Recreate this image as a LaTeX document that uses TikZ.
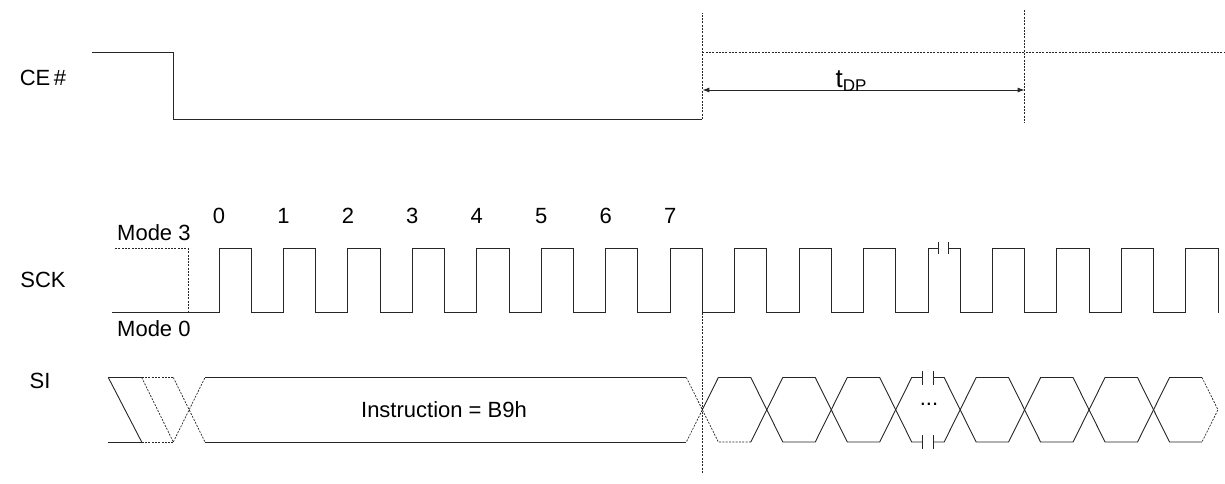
\documentclass[tikz,border=0pt]{standalone}
\usepackage{fontspec}
\setmainfont{Liberation Sans}
\usetikzlibrary{arrows.meta}
\begin{document}
\begin{tikzpicture}[x=1pt,y=-1pt,
  sig/.style={line width=0.9pt,black!85},
  dsh/.style={line width=0.7pt,black!85,dash pattern=on 2pt off 1.3pt},
  lbl/.style={font=\fontsize{22}{26}\selectfont,inner sep=0pt},
  brk/.style={line width=0.8pt,black!85}]
\useasboundingbox (0,0) rectangle (1225,483);
\def\P{64.45}\def\Hw{32.2}\def\Ro{219}
\def\hi{248.3}\def\lo{312.5}
\def\T{377.5}\def\B{442}\def\M{409.75}
% ---------- CE# ----------
\node[lbl] (ce) at (43,78) {CE\,\#};
\coordinate (ceend) at (702.35,119);
\coordinate (dtopA) at (702.35,13);
\coordinate (dtopB) at (1024.6,10);
\coordinate (dbotB) at (1024.6,123);
\coordinate (hA) at (702.35,52.7);
\coordinate (hB) at (1225,52.7);
\coordinate (arA) at (702.35,90);
\coordinate (arB) at (1024.6,90);
\draw[sig] (92,52.7) -- (173.3,52.7) -- (173.3,119) -- (ceend);
\draw[dsh] (ceend) -- (dtopA);
\draw[dsh] (hA) -- (hB);
\draw[dsh] (dtopB) -- (dbotB);
\draw[sig,{Latex[length=7pt,width=5pt]}-{Latex[length=7pt,width=5pt]}] (arA) -- (arB);
\node[inner sep=0pt,anchor=base] (tdp) at (851,87) {\fontsize{26}{28}\selectfont t\raisebox{-4pt}{\fontsize{17}{18}\selectfont DP}};
% ---------- SCK ----------
\node[lbl] (sck) at (43,280) {SCK};
\node[lbl,anchor=base west] (m3) at (117,240.5) {Mode 3};
\node[lbl,anchor=base west] (m0) at (117,336.5) {Mode 0};
\draw[dsh] (115,\hi) -- (188,\hi) -- (188,\lo);
\draw[sig] (112,\lo) -- (\Ro,\lo)
  \foreach \k in {0,...,10}{ -- ({\Ro+\k*\P},\lo) -- ({\Ro+\k*\P},\hi) -- ({\Ro+\k*\P+\Hw},\hi) -- ({\Ro+\k*\P+\Hw},\lo)}
  -- ({\Ro+11*\P},\lo) -- ({\Ro+11*\P},\hi) -- (938,\hi);
\draw[sig] (948,\hi) -- ({\Ro+11*\P+\Hw},\hi) -- ({\Ro+11*\P+\Hw},\lo)
  \foreach \k in {12,...,15}{ -- ({\Ro+\k*\P},\lo) -- ({\Ro+\k*\P},\hi) -- ({\Ro+\k*\P+\Hw},\hi) -- ({\Ro+\k*\P+\Hw},\lo)};
\draw[brk] (938,{\hi-6}) -- (938,{\hi+6});
\draw[brk] (948,{\hi-6}) -- (948,{\hi+6});
\foreach \k in {0,...,7}{ \node[lbl,anchor=base] (n\k) at ({\Ro+\k*\P},223) {\k}; }
\draw[dsh] (702.35,\lo) -- (702.35,473);
% ---------- SI ----------
\node[lbl] (si) at (40,381) {SI};
% left start
\draw[sig] (108.3,\T) -- (141.7,\T);
\draw[sig] (108.3,\B) -- (141.7,\B);
\draw[sig] (108.3,\T) -- (141.7,\B);
\draw[dsh] (141.7,\T) -- (173.3,\T);
\draw[dsh] (141.7,\B) -- (173.3,\B);
\draw[dsh] (141.7,\T) -- (173.3,\B);
\draw[dsh] (173.3,\T) -- (205,\B);
\draw[dsh] (173.3,\B) -- (205,\T);
% instruction cell
\draw[sig] (205,\T) -- (686.35,\T);
\draw[sig] (205,\B) -- (686.35,\B);
\draw[dsh] (686.35,\T) -- (702.35,\M) -- (686.35,\B);
\node[lbl] (ins) at (444,410) {Instruction = B9h};
% cell after CE rise
\draw[sig] (702.35,\M) -- (718.35,\T) -- (750.8,\T) -- (766.8,\M) -- (750.8,\B);
\draw[dsh] (750.8,\B) -- (718.35,\B) -- (702.35,\M);
% regular cells
\foreach \j in {8,9,11,12,13}{
  \pgfmathsetmacro\ca{\Ro+\j*\P+\Hw}
  \pgfmathsetmacro\cb{\Ro+(\j+1)*\P+\Hw}
  \draw[sig] (\ca,\M) -- ({\ca+16},\T) -- ({\cb-16},\T) -- (\cb,\M) -- ({\cb-16},\B) -- ({\ca+16},\B) -- cycle;
}
% break cell
\draw[sig] (922.7,\T) -- (911.7,\T) -- (895.7,\M) -- (911.7,\B) -- (922.7,\B);
\draw[sig] (933.3,\T) -- (944.15,\T) -- (960.15,\M) -- (944.15,\B) -- (933.3,\B);
\foreach \xx in {922.7,933.3}{
  \draw[brk] (\xx,{\T-7}) -- (\xx,{\T+7});
  \draw[brk] (\xx,{\B-7}) -- (\xx,{\B+7});
}
\node[lbl] (dots) at (929,404) {...};
% last cell
\draw[sig] (1201.95,\B) -- (1169.5,\B) -- (1153.5,\M) -- (1169.5,\T) -- (1201.95,\T);
\draw[dsh] (1201.95,\T) -- (1217.95,\M) -- (1201.95,\B);
\end{tikzpicture}
\end{document}
